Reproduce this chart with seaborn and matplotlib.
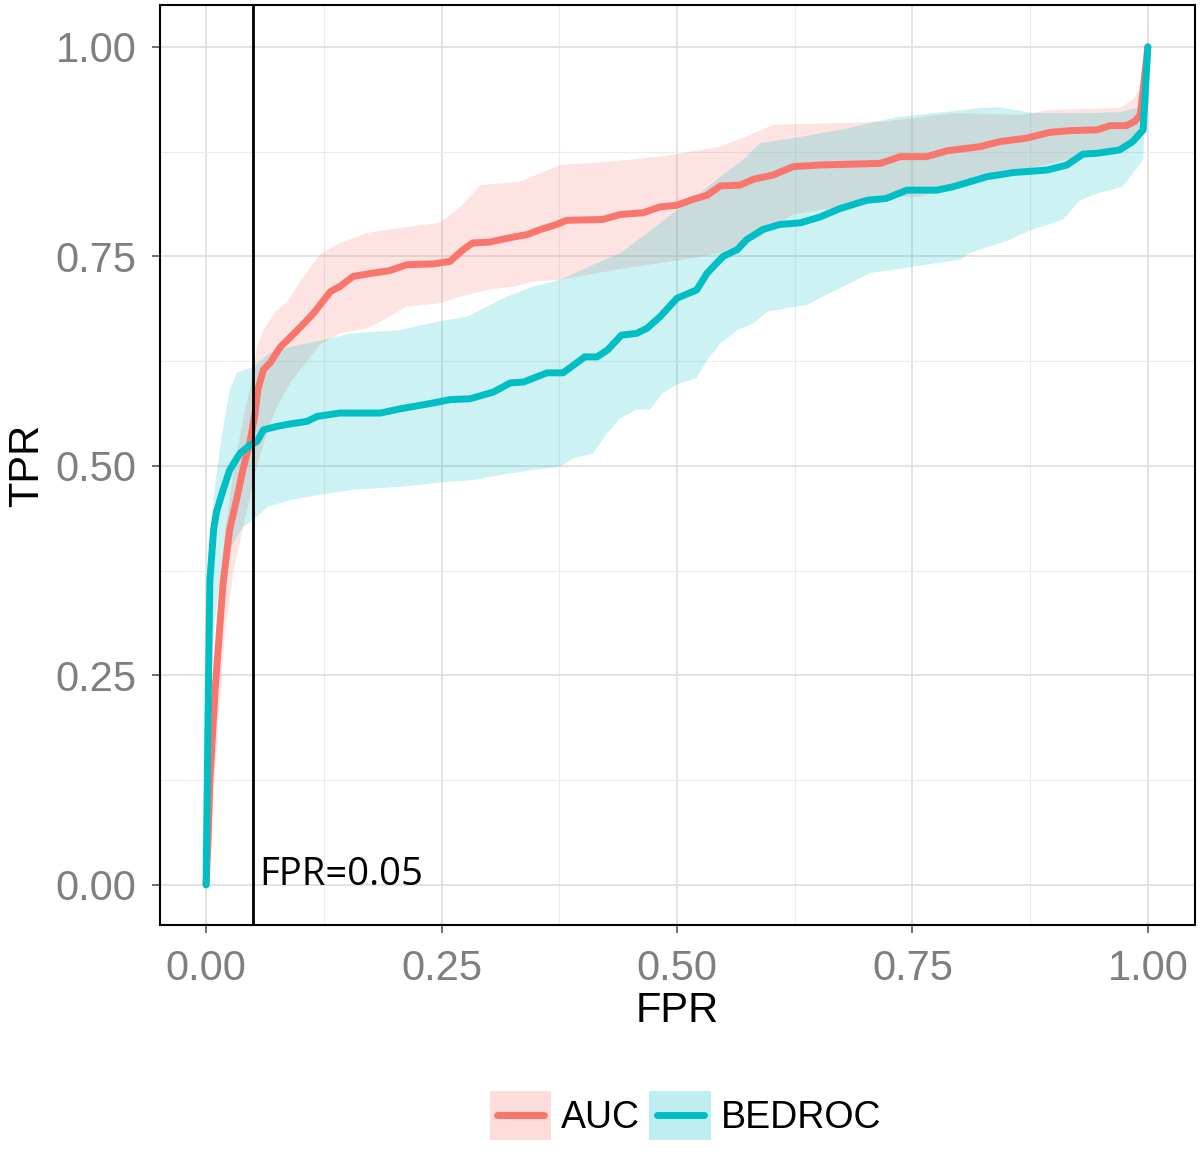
import numpy as np
import pandas as pd
import seaborn as sns
import matplotlib.pyplot as plt
from matplotlib.patches import Rectangle
from matplotlib.lines import Line2D

# AUC mean curve and band
auc_x = [0, 0.002, 0.004, 0.01, 0.018, 0.025, 0.033, 0.039, 0.047, 0.052, 0.055, 0.061, 0.068, 0.079,
         0.097, 0.114, 0.132, 0.142, 0.156, 0.177, 0.195, 0.213, 0.241, 0.259, 0.273, 0.283, 0.301,
         0.326, 0.341, 0.355, 0.372, 0.383, 0.421, 0.44, 0.464, 0.482, 0.5, 0.517, 0.532, 0.546,
         0.567, 0.581, 0.602, 0.623, 0.652, 0.716, 0.737, 0.765, 0.787, 0.822, 0.843, 0.871, 0.896,
         0.917, 0.946, 0.96, 0.977, 0.986, 0.992, 1.0]
auc_y = [0, 0.05, 0.125, 0.24, 0.36, 0.424, 0.463, 0.495, 0.531, 0.563, 0.591, 0.615, 0.623, 0.642,
         0.662, 0.682, 0.708, 0.714, 0.726, 0.73, 0.733, 0.74, 0.741, 0.744, 0.758, 0.766, 0.767,
         0.773, 0.776, 0.782, 0.788, 0.793, 0.794, 0.80, 0.802, 0.809, 0.811, 0.818, 0.823, 0.834,
         0.835, 0.842, 0.847, 0.857, 0.859, 0.861, 0.869, 0.869, 0.876, 0.881, 0.887, 0.891, 0.898,
         0.9, 0.901, 0.906, 0.906, 0.911, 0.919, 1.0]
auc_hi_x = [0, 0.004, 0.01, 0.02, 0.03, 0.04, 0.05, 0.054, 0.061, 0.075, 0.086, 0.1, 0.121, 0.142,
            0.171, 0.206, 0.248, 0.27, 0.291, 0.333, 0.376, 0.429, 0.482, 0.5, 0.546, 0.574, 0.602,
            0.673, 0.722, 0.793, 0.864, 0.899, 0.97, 0.984, 0.991, 1.0]
auc_hi_y = [0, 0.15, 0.28, 0.42, 0.5, 0.56, 0.61, 0.642, 0.662, 0.686, 0.695, 0.72, 0.752, 0.766,
            0.778, 0.784, 0.79, 0.809, 0.835, 0.839, 0.859, 0.863, 0.869, 0.872, 0.881, 0.893, 0.907,
            0.909, 0.911, 0.921, 0.919, 0.925, 0.927, 0.937, 0.949, 1.0]
auc_lo_x = [0, 0.005, 0.01, 0.02, 0.03, 0.04, 0.054, 0.065, 0.075, 0.09, 0.1, 0.121, 0.142, 0.171,
            0.188, 0.213, 0.248, 0.27, 0.298, 0.326, 0.347, 0.376, 0.44, 0.5, 0.546, 0.588, 0.623,
            0.673, 0.722, 0.758, 0.793, 0.829, 0.864, 0.899, 0.935, 0.97, 0.992, 1.0]
auc_lo_y = [0, 0.05, 0.15, 0.3, 0.38, 0.43, 0.5, 0.54, 0.57, 0.6, 0.615, 0.645, 0.658, 0.664,
            0.674, 0.69, 0.694, 0.702, 0.71, 0.714, 0.72, 0.722, 0.735, 0.745, 0.754, 0.773, 0.8,
            0.809, 0.821, 0.821, 0.833, 0.845, 0.853, 0.861, 0.871, 0.877, 0.889, 1.0]

# BEDROC mean curve and band
bed_x = [0, 0.002, 0.004, 0.008, 0.011, 0.018, 0.025, 0.036, 0.047, 0.054, 0.061, 0.075, 0.089,
         0.107, 0.118, 0.142, 0.185, 0.206, 0.241, 0.259, 0.28, 0.305, 0.323, 0.337, 0.362, 0.379,
         0.39, 0.402, 0.415, 0.426, 0.441, 0.457, 0.468, 0.482, 0.5, 0.521, 0.532, 0.549, 0.564,
         0.574, 0.591, 0.609, 0.631, 0.652, 0.673, 0.702, 0.722, 0.744, 0.776, 0.793, 0.829, 0.857,
         0.893, 0.914, 0.931, 0.946, 0.97, 0.984, 0.995, 1.0]
bed_y = [0, 0.2, 0.364, 0.424, 0.445, 0.471, 0.495, 0.515, 0.525, 0.529, 0.543, 0.547, 0.55,
         0.553, 0.559, 0.563, 0.563, 0.568, 0.575, 0.579, 0.58, 0.588, 0.599, 0.6, 0.611, 0.611,
         0.62, 0.63, 0.63, 0.638, 0.656, 0.658, 0.664, 0.678, 0.7, 0.71, 0.73, 0.75, 0.758,
         0.77, 0.782, 0.788, 0.79, 0.797, 0.807, 0.817, 0.819, 0.829, 0.829, 0.833, 0.845, 0.85,
         0.853, 0.859, 0.872, 0.873, 0.877, 0.887, 0.901, 1.0]
bed_hi_x = [0, 0.002, 0.004, 0.008, 0.015, 0.025, 0.033, 0.05, 0.068, 0.089, 0.124, 0.153, 0.206,
            0.241, 0.277, 0.298, 0.32, 0.347, 0.376, 0.411, 0.44, 0.471, 0.5, 0.524, 0.546, 0.57,
            0.588, 0.623, 0.673, 0.733, 0.782, 0.822, 0.843, 0.878, 0.935, 0.97, 0.991, 1.0]
bed_hi_y = [0, 0.2, 0.403, 0.463, 0.523, 0.591, 0.611, 0.618, 0.635, 0.642, 0.65, 0.658, 0.662,
            0.671, 0.678, 0.69, 0.702, 0.714, 0.722, 0.74, 0.754, 0.78, 0.805, 0.825, 0.845, 0.865,
            0.885, 0.891, 0.901, 0.916, 0.922, 0.927, 0.928, 0.921, 0.921, 0.922, 0.928, 1.0]
bed_lo_x = [0, 0.002, 0.004, 0.008, 0.013, 0.018, 0.029, 0.039, 0.05, 0.065, 0.089, 0.118, 0.153,
            0.206, 0.248, 0.283, 0.312, 0.347, 0.376, 0.39, 0.411, 0.426, 0.44, 0.457, 0.471, 0.485,
            0.5, 0.521, 0.532, 0.546, 0.564, 0.581, 0.596, 0.617, 0.638, 0.66, 0.684, 0.705, 0.747,
            0.8, 0.811, 0.854, 0.875, 0.91, 0.928, 0.946, 0.973, 0.995, 1.0]
bed_lo_y = [0, 0.1, 0.2, 0.3, 0.35, 0.384, 0.408, 0.427, 0.435, 0.451, 0.459, 0.465, 0.471,
            0.475, 0.48, 0.483, 0.489, 0.495, 0.499, 0.509, 0.515, 0.539, 0.557, 0.567, 0.567, 0.587,
            0.597, 0.605, 0.626, 0.646, 0.662, 0.67, 0.684, 0.688, 0.692, 0.705, 0.718, 0.73, 0.737,
            0.746, 0.754, 0.77, 0.781, 0.794, 0.817, 0.825, 0.833, 0.865, 1.0]

methods = ['AUC', 'BEDROC']
colors = {'AUC': '#F8766D', 'BEDROC': '#00BFC4'}

curves = {
    'AUC': (auc_x, auc_y, auc_hi_x, auc_hi_y, auc_lo_x, auc_lo_y),
    'BEDROC': (bed_x, bed_y, bed_hi_x, bed_hi_y, bed_lo_x, bed_lo_y),
}


# legend key like ggplot: shaded box with a short line inside
class KeyHandler:
    def legend_artist(self, legend, orig_handle, fontsize, handlebox):
        x0, y0 = -handlebox.xdescent, -handlebox.ydescent
        w, h = handlebox.width, handlebox.height
        tr = handlebox.get_transform()
        box = Rectangle([x0, y0], w, h, facecolor=orig_handle.get_color(), alpha=0.25,
                        edgecolor='none', transform=tr)
        line = Line2D([x0 + 0.12 * w, x0 + 0.88 * w], [y0 + h / 2, y0 + h / 2],
                      color=orig_handle.get_color(), linewidth=5, transform=tr)
        handlebox.add_artist(box)
        handlebox.add_artist(line)
        return box


sns.set_theme(style='white')
plt.rcParams['font.family'] = ['Liberation Sans', 'DejaVu Sans']
plt.rcParams['text.color'] = 'black'
plt.rcParams['axes.labelcolor'] = 'black'

fig = plt.figure(figsize=(12, 11.57), dpi=100)
ax = fig.add_axes([0.1333, 0.2005, 0.8625, 0.7952])

for m in methods:
    x, y, hx, hy, lx, ly = curves[m]
    poly_x = np.concatenate([hx, lx[::-1]])
    poly_y = np.concatenate([hy, ly[::-1]])
    ax.fill(poly_x, poly_y, color=colors[m], alpha=0.2, linewidth=0)
    df = pd.DataFrame({'FPR': x, 'TPR': y})
    sns.lineplot(data=df, x='FPR', y='TPR', ax=ax, color=colors[m], linewidth=5,
                 sort=False, estimator=None)

ax.axvline(0.05, color='black', linewidth=2)
ax.text(0.056, 0.0, 'FPR=0.05', fontsize=27.5, family='Open Sans', color='black',
        va='baseline', ha='left')

ax.set_xlim(-0.049, 1.05)
ax.set_ylim(-0.048, 1.05)
ticks = [0, 0.25, 0.5, 0.75, 1.0]
ax.set_xticks(ticks)
ax.set_yticks(ticks)
ax.set_xticklabels(['0.00', '0.25', '0.50', '0.75', '1.00'])
ax.set_yticklabels(['0.00', '0.25', '0.50', '0.75', '1.00'])
ax.set_xticks([0.125, 0.375, 0.625, 0.875], minor=True)
ax.set_yticks([0.125, 0.375, 0.625, 0.875], minor=True)
ax.grid(True, which='major', color='#DEDEDE', linewidth=1.2)
ax.grid(True, which='minor', color='#EBEBEB', linewidth=0.8)
ax.set_axisbelow(True)
ax.tick_params(axis='both', which='major', length=6, width=1.2, color='#555555',
               labelsize=30, labelcolor='#7F7F7F', pad=11)
ax.tick_params(axis='both', which='minor', length=0)
ax.tick_params(bottom=True, left=True)
for s in ax.spines.values():
    s.set_color('black')
    s.set_linewidth(1.5)

ax.set_xlabel('FPR', fontsize=30, labelpad=2)
ax.set_ylabel('TPR', fontsize=30, labelpad=6)

handles = [Line2D([], [], color=colors[m]) for m in methods]
fig.legend(handles, methods, loc='center', bbox_to_anchor=(0.571, 0.036), ncol=2,
           frameon=False, fontsize=27, handlelength=1.65, handleheight=1.65,
           handletextpad=0.25, columnspacing=0.25,
           handler_map={Line2D: KeyHandler()})

fig.savefig('out.png', dpi=100)
